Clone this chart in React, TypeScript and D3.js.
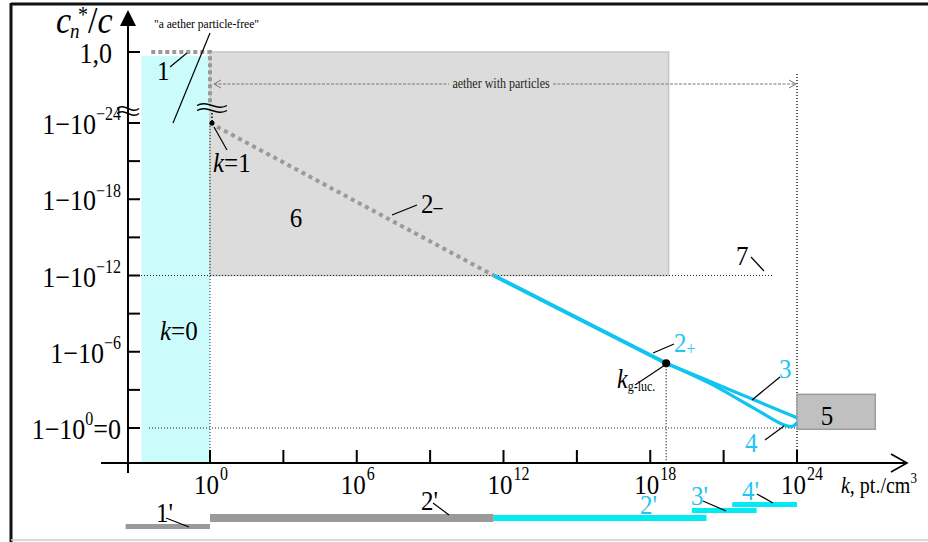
import React from 'react';
import * as d3 from 'd3';

const W = 928;
const H = 542;

// x: log10 k (pt./cm^3); y: exponent e of c*/c = 1 - 10^e (broken axis, ONE = level "1,0")
const ONE = -29.6;
const xTickValues = [0, 3, 6, 9, 12, 15, 18, 21, 24];
const xLabelValues = [0, 6, 12, 18, 24];
const yTickValues = [0, -3, -6, -9, -12, -15, -18, -21, -24];
const yLabelValues = [0, -6, -12, -18, -24];
const yLabelSup = ['0', '−6', '−12', '−18', '−24'];
const yLabelTail = ['=0', '', '', '', ''];

// curves [log10 k, exponent]
const curve1: [number, number][] = [[-2.4, ONE], [0, ONE], [0, -25.6]];
const curve2minus: [number, number][] = [[0, -24], [11.6, -12]];
const curve2plus: [number, number][] = [[11.6, -12], [18.65, -5.1]];
const curve3: [number, number][] = [[18.65, -5.1], [21.2, -3.05], [24, -0.8]];
const curve4: [number, number][] = [[18.65, -5.1], [20.4, -3.55], [22.16, -1.65], [23.45, -0.25], [23.8, -0.12], [24, -0.4]];
const kGluc: [number, number] = [18.65, -5.1];
const k1: [number, number] = [0, -24];

// regions
const regionK0 = { from: -2.8, to: 0, top: -29.3 };
const region6 = { from: 0, to: 18.75, top: ONE, bottom: -12 };
const region5 = { from: 24, to: 27.2, top: -2.65, bottom: 0.1 };

// ranges shown under the axis
const barNames = ["1'", "2'", "2'", "3'", "4'"];
const barFrom = [-3.45, 0, 11.6, 19.7, 21.35];
const barTo = [0, 11.6, 20.3, 22.35, 24];

const FONT = "'Liberation Serif', 'Times New Roman', serif";
const CYAN_LINE = '#10c4f0';
const CYAN_TEXT = '#22c4f2';
const CYAN_BAR = '#00ecf2';
const GREY_BAR = '#9a9a9a';

const barLayout = [
  { y: 524, h: 5, color: GREY_BAR },
  { y: 514, h: 8, color: GREY_BAR },
  { y: 515, h: 6, color: CYAN_BAR },
  { y: 508, h: 5, color: CYAN_BAR },
  { y: 502, h: 5, color: CYAN_BAR },
];

const x = d3.scaleLinear().domain([0, 24]).range([210, 797]);
const y = d3.scaleLinear().domain([ONE, -24, 0]).range([52, 123, 428]);

const AX_X = 128;
const AX_Y = 463;

const line = d3.line<[number, number]>().x(d => x(d[0])).y(d => y(d[1]));
const smooth = d3.line<[number, number]>().x(d => x(d[0])).y(d => y(d[1])).curve(d3.curveCatmullRom.alpha(0.5));

function tilde(x0: number, yc: number, w: number) {
  const p = d3.path();
  for (const off of [-2.5, 2.5]) {
    p.moveTo(x0, yc + off);
    p.bezierCurveTo(x0 + w / 3, yc + off - 6, x0 + (2 * w) / 3, yc + off + 6, x0 + w, yc + off);
  }
  return p.toString();
}

// text stretched vertically (the reference uses tall glyphs)
function T(props: { x: number; y: number; sy?: number; children: React.ReactNode; [k: string]: any }) {
  const { x: tx, y: ty, sy = 1.13, children, ...rest } = props;
  return (
    <g transform={`translate(${tx},${ty}) scale(1,${sy})`}>
      <text x={0} y={0} {...rest}>{children}</text>
    </g>
  );
}

export default function App() {
  const dotted = { stroke: '#222', strokeWidth: 1, strokeDasharray: '1 2', fill: 'none' };
  const leader = { stroke: '#000', strokeWidth: 1.2 };
  return (
    <svg width={W} height={H} style={{ position: 'absolute', left: 0, top: 0, background: '#fff' }} fontFamily={FONT}>
      {/* frame */}
      <line x1={11} y1={4} x2={W} y2={4} stroke="#111" strokeWidth={3} />
      <line x1={11} y1={3} x2={11} y2={H} stroke="#111" strokeWidth={3} />
      <line x1={11} y1={540} x2={W} y2={540} stroke="#ccc" strokeWidth={1.5} />

      {/* regions */}
      <rect x={x(regionK0.from)} y={y(regionK0.top)} width={x(regionK0.to) - x(regionK0.from)} height={AX_Y - y(regionK0.top)} fill="#ccfbfb" />
      <rect x={x(region6.from)} y={y(region6.top)} width={x(region6.to) - x(region6.from)} height={y(region6.bottom) - y(region6.top)} fill="#dcdcdc" stroke="#c6c6c6" strokeWidth={1.5} />

      {/* dotted guides */}
      <line x1={135} x2={773} y1={y(-12)} y2={y(-12)} {...dotted} />
      <line x1={149} x2={813} y1={y(0)} y2={y(0)} {...dotted} />
      <line x1={x(0)} x2={x(0)} y1={y(-24)} y2={AX_Y} {...dotted} />
      <line x1={x(24)} x2={x(24)} y1={74} y2={AX_Y} {...dotted} strokeWidth={1.5} />
      <line x1={x(kGluc[0])} x2={x(kGluc[0])} y1={y(kGluc[1])} y2={AX_Y} {...dotted} strokeWidth={1.3} />
      <line x1={x(0) + 2} x2={x(0) + 2} y1={113} y2={y(-24)} stroke="#000" strokeWidth={1.5} strokeDasharray="1.5 2" />

      {/* region 5 */}
      <rect x={x(region5.from)} y={y(region5.top)} width={x(region5.to) - x(region5.from)} height={y(region5.bottom) - y(region5.top)} fill="#c0c0c0" stroke="#9d9d9d" strokeWidth={1.5} />
      <T x={827} y={425} fontSize={25} textAnchor="middle">5</T>

      {/* aether with particles arrow */}
      <g stroke="#777" strokeWidth={1} fill="none">
        <line x1={214} x2={449} y1={84} y2={84} strokeDasharray="3 1.5" />
        <line x1={553} x2={796} y1={84} y2={84} strokeDasharray="3 1.5" />
        <polyline points="221,80 214,84 221,88" />
        <polyline points="789,80 796,84 789,88" />
      </g>
      <T x={501} y={88} fontSize={12} textAnchor="middle" fill="#222">aether with particles</T>

      {/* curves */}
      <path d={line(curve1)!} fill="none" stroke="#9a9a9a" strokeWidth={4} strokeDasharray="4 3" />
      <path d={line(curve2minus)!} fill="none" stroke="#9a9a9a" strokeWidth={4} strokeDasharray="4 4" />
      <path d={line(curve2plus)!} fill="none" stroke={CYAN_LINE} strokeWidth={4} />
      <path d={smooth(curve3)!} fill="none" stroke={CYAN_LINE} strokeWidth={3.2} />
      <path d={smooth(curve4)!} fill="none" stroke={CYAN_LINE} strokeWidth={3.2} />
      <circle cx={x(kGluc[0])} cy={y(kGluc[1])} r={4} fill="#000" />
      <circle cx={x(k1[0]) + 2} cy={y(k1[1])} r={2.5} fill="#000" />

      {/* break marks */}
      <path d={tilde(197, 108, 30)} fill="none" stroke="#000" strokeWidth={1.4} />

      {/* axes */}
      <line x1={AX_X} x2={AX_X} y1={24} y2={473} stroke="#000" strokeWidth={2} />
      <path d={`M${AX_X},10 L${AX_X - 8},26 L${AX_X + 8},26 Z`} fill="#000" />
      <path d={tilde(117, 111, 22)} fill="none" stroke="#000" strokeWidth={1.4} />
      <line x1={101} x2={907} y1={AX_Y} y2={AX_Y} stroke="#000" strokeWidth={1.8} />
      <polyline points={`891,454 907,${AX_Y} 891,472`} fill="none" stroke="#000" strokeWidth={1.6} />

      {xTickValues.map(v => (
        <line key={'xt' + v} x1={x(v)} x2={x(v)} y1={AX_Y - 13} y2={AX_Y} stroke="#000" strokeWidth={2} />
      ))}
      {xLabelValues.map(v => (
        <T key={'xl' + v} x={x(v) + 9} y={494} fontSize={25} textAnchor="end">10</T>
      ))}
      {xLabelValues.map(v => (
        <T key={'xs' + v} x={x(v) + 10} y={480} fontSize={16}>{String(v)}</T>
      ))}

      {[...yTickValues, ONE].map(v => (
        <line key={'yt' + v} x1={AX_X} x2={AX_X + 12} y1={y(v)} y2={y(v)} stroke="#000" strokeWidth={2} />
      ))}
      {yLabelValues.map((v, i) => (
        <T key={'yl' + v} x={121} y={y(v) + 11} fontSize={26} textAnchor="end">
          1−10<tspan dy={-12} fontSize={16}>{yLabelSup[i]}</tspan>
          {yLabelTail[i] ? <tspan dy={12}>{yLabelTail[i]}</tspan> : null}
        </T>
      ))}
      <T x={112} y={y(ONE) + 11} fontSize={26} textAnchor="end">1,0</T>

      {/* axis titles */}
      <T x={56} y={33} fontSize={34} fontStyle="italic">c</T>
      <T x={70} y={38} fontSize={19} fontStyle="italic">n</T>
      <T x={78} y={22} fontSize={20}>*</T>
      <T x={88} y={33} fontSize={34}>/<tspan fontStyle="italic">c</tspan></T>
      <T x={841} y={493} fontSize={20}><tspan fontStyle="italic">k</tspan>, pt./cm<tspan dy={-9} fontSize={13}>3</tspan></T>

      {/* annotations */}
      <text x={154} y={28} fontSize={12} textLength={105} lengthAdjust="spacingAndGlyphs">"a aether particle-free"</text>
      <line x1={210} y1={33} x2={173} y2={123} {...leader} />
      <T x={157} y={80} fontSize={25}>1</T>
      <line x1={170} y1={67} x2={187} y2={53} {...leader} />
      <T x={213} y={172} fontSize={25}><tspan fontStyle="italic">k</tspan>=1</T>
      <line x1={227} y1={150} x2={214} y2={127} {...leader} />
      <T x={296} y={227} fontSize={25} textAnchor="middle">6</T>
      <T x={421} y={213} fontSize={25}>2<tspan fontSize={18} dy={1}>–</tspan></T>
      <line x1={392} y1={215} x2={417} y2={205} {...leader} />
      <T x={160} y={340} fontSize={25}><tspan fontStyle="italic">k</tspan>=0</T>
      <T x={736} y={265} fontSize={25}>7</T>
      <line x1={751} y1={257} x2={764} y2={271} {...leader} />
      <T x={674} y={352} fontSize={25} fill={CYAN_TEXT}>2<tspan fontSize={16} dy={3}>+</tspan></T>
      <line x1={653} y1={353} x2={674} y2={344} {...leader} />
      <T x={617} y={388} fontSize={24}><tspan fontStyle="italic">k</tspan><tspan fontSize={12} dy={3}>g-luc.</tspan></T>
      <line x1={635} y1={385} x2={665} y2={365} {...leader} />
      <T x={779} y={378} fontSize={25} fill={CYAN_TEXT}>3</T>
      <line x1={752} y1={400} x2={780} y2={377} {...leader} />
      <T x={745} y={452} fontSize={25} fill={CYAN_TEXT}>4</T>
      <line x1={765} y1={440} x2={784} y2={426} {...leader} />

      {/* ranges */}
      {barNames.map((n, i) => (
        <rect key={'bar' + i} x={x(barFrom[i])} y={barLayout[i].y} width={x(barTo[i]) - x(barFrom[i])} height={barLayout[i].h} fill={barLayout[i].color} />
      ))}
      <T x={156} y={522} fontSize={25}>{barNames[0]}</T>
      <line x1={166} y1={518} x2={189} y2={527} {...leader} />
      <T x={421} y={510} fontSize={25}>{barNames[1]}</T>
      <line x1={433} y1={503} x2={449} y2={515} {...leader} />
      <T x={640} y={514} fontSize={25} fill={CYAN_TEXT}>{barNames[2]}</T>
      <T x={691} y={505} fontSize={25} fill={CYAN_TEXT}>{barNames[3]}</T>
      <line x1={703} y1={501} x2={726} y2={511} {...leader} />
      <T x={742} y={500} fontSize={25} fill={CYAN_TEXT}>{barNames[4]}</T>
      <line x1={757} y1={494} x2={773} y2={503} {...leader} />
    </svg>
  );
}
